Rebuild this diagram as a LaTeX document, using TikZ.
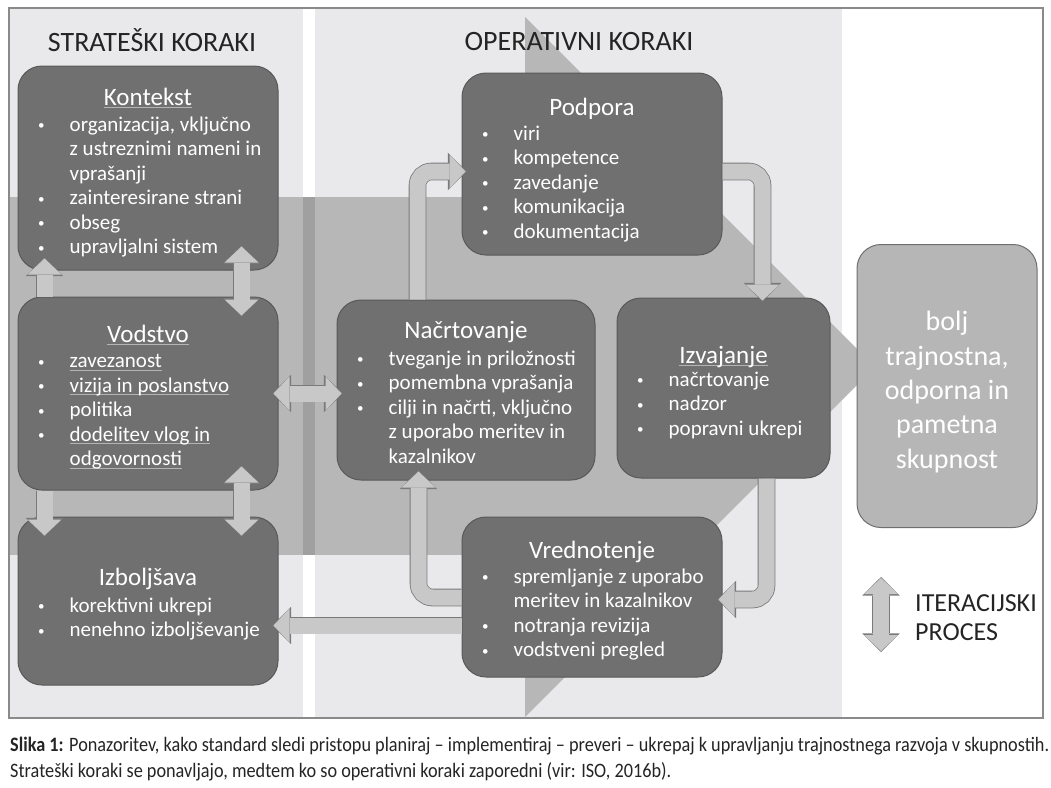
\documentclass[tikz,border=0pt]{standalone}
\usepackage{graphicx}
\usepackage{fontspec}
\setmainfont{Carlito}
\newfontfamily\capfont[FakeStretch=0.89]{Carlito}
\usetikzlibrary{calc,arrows.meta}
\definecolor{panel}{HTML}{E9E9EB}
\definecolor{band}{HTML}{B7B7B7}
\definecolor{stripe}{HTML}{A0A0A0}
\definecolor{boxfill}{HTML}{707071}
\definecolor{boxline}{HTML}{595959}
\definecolor{arrfill}{HTML}{C8C8C8}
\definecolor{arrline}{HTML}{7A7A7A}
\definecolor{tgtfill}{HTML}{B6B6B6}
\definecolor{tgtline}{HTML}{6F6F6F}
\definecolor{ulcol}{HTML}{B4B4B4}
\definecolor{headtext}{HTML}{242424}
\definecolor{frameline}{HTML}{8A8A8A}
\newcommand\setfs[2]{\fontsize{#1}{#2}\selectfont}
\newcommand\itm{\makebox[34pt][l]{\hspace{2.5pt}\raisebox{1.6pt}{\scalebox{0.62}{\textbullet}}}}
\newcommand\cnt{\hspace*{34pt}}
\newsavebox\ulbox
\newcommand\ulx[1]{\leavevmode\sbox\ulbox{#1}\rlap{\textcolor{ulcol}{\rule[-2.5pt]{\wd\ulbox}{0.7pt}}}#1}
\newcommand\fwdarrow[1]{%
  \draw[blkout,-{Triangle[width=37.6pt,length=18.6pt,line width=0pt]}] #1;
  \draw[blkin,shorten >=1pt,-{Triangle[width=34pt,length=16pt,line width=0pt]}] #1;}
\newcommand\dblarrow[1]{%
  \draw[blkout,{Triangle[width=37.6pt,length=18.6pt,line width=0pt]}-{Triangle[width=37.6pt,length=18.6pt,line width=0pt]}] #1;
  \draw[blkin,shorten >=1pt,shorten <=1pt,{Triangle[width=34pt,length=16pt,line width=0pt]}-{Triangle[width=34pt,length=16pt,line width=0pt]}] #1;}
\tikzset{
  box/.style={draw=boxline, fill=boxfill, rounded corners=24pt, line width=1pt, inner sep=0pt},
  ttl/.style={text=white, font=\setfs{25}{30}, anchor=base, inner sep=0pt},
  lst/.style={text=white, font=\setfs{21}{24.5}, align=left, anchor=north west, inner sep=0pt,
    execute at begin node={\rule{0pt}{16pt}}},
  head/.style={text=headtext, font=\setfs{28}{34}, inner sep=0pt},
  blkout/.style={draw=arrline, line width=17.6pt},
  blkin/.style={draw=arrfill, line width=16pt},
}
\begin{document}
\begin{tikzpicture}[x=1pt,y=-1pt]
  %%%%% BACKGROUND %%%%%
  \useasboundingbox (0,0) rectangle (1051,787);
  \fill[panel] (9,8) rectangle (303,718);
  \fill[panel] (315,8) rectangle (842,718);
  \fill[band] (9,197) rectangle (600,555);
  \fill[band] (525,17) -- (875,367) -- (525,717) -- cycle;
  \fill[stripe] (303,197) rectangle (315,555);
  \draw[frameline, line width=1.2pt] (9,8) rectangle (1043,718);

  \node[head] (strat) at (152,40) {STRATEŠKI KORAKI};
  \node[head] (oper) at (579,42) {OPERATIVNI KORAKI};

  %%%%% STRATEGIC BOXES %%%%%
  \node[box, minimum width=260pt, minimum height=204pt] (kontekst) at (148,168) {};
  \node[ttl] (kontekst-t) at ($(kontekst.north)+(0,40)$) {\ulx{Kontekst}};
  \node[lst] (kontekst-l) at ($(kontekst.north west)+(18,51)$)
    {\itm organizacija, vključno\\\cnt z ustreznimi nameni in\\\cnt vprašanji\\\itm zainteresirane strani\\\itm obseg\\\itm upravljalni sistem};

  \node[box, minimum width=260pt, minimum height=193pt] (vodstvo) at (148,393.5) {};
  \node[ttl] (vodstvo-t) at ($(vodstvo.north)+(0,46)$) {\ulx{Vodstvo}};
  \node[lst] (vodstvo-l) at ($(vodstvo.north west)+(18,58)$)
    {\itm \ulx{zavezanost}\\\itm \ulx{vizija in poslanstvo}\\\itm politika\\\itm \ulx{dodelitev vlog in}\\\cnt \ulx{odgovornosti}};

  \node[box, minimum width=260pt, minimum height=168pt] (izbolj) at (148,601) {};
  \node[ttl] (izbolj-t) at ($(izbolj.north)+(0,69)$) {Izboljšava};
  \node[lst] (izbolj-l) at ($(izbolj.north west)+(18,81)$)
    {\itm korektivni ukrepi\\\itm nenehno izboljševanje};

  %%%%% OPERATIVE BOXES %%%%%
  \node[box, minimum width=260pt, minimum height=182pt] (podpora) at (592,164) {};
  \node[ttl] (podpora-t) at ($(podpora.north)+(0,43)$) {Podpora};
  \node[lst] (podpora-l) at ($(podpora.north west)+(18,53)$)
    {\itm viri\\\itm kompetence\\\itm zavedanje\\\itm komunikacija\\\itm dokumentacija};

  \node[box, minimum width=258pt, minimum height=180pt] (nacrt) at (466,390) {};
  \node[ttl] (nacrt-t) at ($(nacrt.north)+(0,39)$) {Načrtovanje};
  \node[lst] (nacrt-l) at ($(nacrt.north west)+(18,51)$)
    {\itm tveganje in priložnosti\\\itm pomembna vprašanja\\\itm cilji in načrti, vključno\\\cnt z uporabo meritev in\\\cnt kazalnikov};

  \node[box, minimum width=213pt, minimum height=180pt] (izvaj) at (723.5,388) {};
  \node[ttl] (izvaj-t) at ($(izvaj.north)+(0,66)$) {\ulx{Izvajanje}};
  \node[lst] (izvaj-l) at ($(izvaj.north west)+(18,74)$)
    {\itm načrtovanje\\\itm nadzor\\\itm popravni ukrepi};

  \node[box, minimum width=260pt, minimum height=160pt] (vred) at (592,597) {};
  \node[ttl] (vred-t) at ($(vred.north)+(0,42)$) {Vrednotenje};
  \node[lst] (vred-l) at ($(vred.north west)+(18,52)$)
    {\itm spremljanje z uporabo\\\cnt meritev in kazalnikov\\\itm notranja revizija\\\itm vodstveni pregled};

  %%%%% RESULT %%%%%
  \node[draw=tgtline, fill=tgtfill, rounded corners=24pt, line width=1pt, minimum width=180pt, minimum height=283pt] (skupnost) at (947,386) {};
  \node[align=center, text=white, font=\setfs{28}{34.3}, inner sep=0pt] (skupnost-t) at ($(skupnost.center)+(0,6)$)
    {bolj\\trajnostna,\\odporna in\\pametna\\skupnost};

  %%%%% CONNECTORS %%%%%
  \fwdarrow{($(vodstvo.north west)+(27,0)$) -- ($(kontekst.south west)+(27,-13)$)}
  \dblarrow{($(kontekst.south east)+(-37,-25)$) -- ($(vodstvo.north east)+(-37,20)$)}
  \fwdarrow{($(vodstvo.south west)+(27,0)$) -- ($(izbolj.north west)+(27,20)$)}
  \dblarrow{($(vodstvo.south east)+(-37,-25)$) -- ($(izbolj.north east)+(-37,20)$)}
  \dblarrow{($(vodstvo.east)+(-6,0)$) -- ($(vodstvo.east -| nacrt.west)+(6,0)$)}
  \fwdarrow{[rounded corners=14pt] ($(nacrt.north west)+(81,0)$) |- ($(podpora.north west)+(5,99)$)}
  \fwdarrow{[rounded corners=14pt] ($(podpora.north east)+(0,99)$) -| ($(izvaj.north west)+(146,4)$)}
  \fwdarrow{[rounded corners=14pt] ($(izvaj.south west)+(150,0)$) |- ($(vred.north east)+(-5,83)$)}
  \fwdarrow{[rounded corners=14pt] ($(vred.north west)+(0,81)$) -| ($(nacrt.south west)+(82,-10)$)}
  \fwdarrow{($(vred.north west)+(0,109)$) -- ($(izbolj.north east)+(-6,109)$)}

  %%%%% LEGEND %%%%%
  \coordinate (iter-a) at (881,577);
  \coordinate (iter-b) at (881,652);
  \dblarrow{(iter-a) -- (iter-b)}
  \node[anchor=west, align=left, text=headtext, font=\setfs{26}{29}, inner sep=0pt] (iter-t) at (915,618) {ITERACIJSKI\\PROCES};

  %%%%% CAPTION %%%%%
  \node[anchor=base west, inner sep=0pt, text=headtext, font=\capfont\setfs{20.5}{26}] (cap1) at (10,751)
    {\textbf{Slika 1:} Ponazoritev, kako standard sledi pristopu planiraj – implementiraj – preveri – ukrepaj k upravljanju trajnostnega razvoja v skupnostih.};
  \node[anchor=base west, inner sep=0pt, text=headtext, font=\capfont\setfs{20.5}{26}] (cap2) at (10,777)
    {Strateški koraki se ponavljajo, medtem ko so operativni koraki zaporedni (vir: ISO, 2016b).};
\end{tikzpicture}
\end{document}
